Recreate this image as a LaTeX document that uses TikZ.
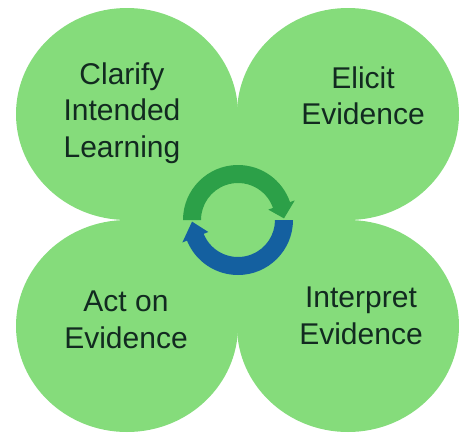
\documentclass[tikz,border=0pt]{standalone}
\usepackage{fontspec}
\setmainfont{Liberation Sans}
\usetikzlibrary{shapes.geometric}

\definecolor{petalgreen}{RGB}{133,220,123}
\definecolor{arcgreen}{RGB}{44,160,72}
\definecolor{arcblue}{RGB}{20,96,160}
\definecolor{labelink}{RGB}{18,42,32}

\begin{document}
\begin{tikzpicture}[x=1pt,y=1pt,
    petal/.style={ellipse, fill=petalgreen, minimum width=222, minimum height=212, inner sep=0},
    petaltext/.style={align=center, text=labelink, font=\fontsize{30}{36.5}\selectfont}]

\fill[white] (0,0) rectangle (459,-437);
\useasboundingbox (0,0) rectangle (459,-437);

% Ring radii for the cycle arrows
\def\ringout{55}
\def\ringin{37}
\def\ringmid{46}
\def\headout{60}
\def\headin{32}

% Arrow on the ring
\newcommand{\cyclearrow}[4]{
    % #1 is the colour, #2 the start angle, #3 the head base angle, #4 the tip angle
    \fill[#1] (#2:\ringout) arc[start angle=#2, end angle=#3, radius=\ringout]
        -- (#3:\headout) -- (#4:\ringmid) -- (#3:\headin)
        -- (#3:\ringin) arc[start angle=#3, end angle=#2, radius=\ringin] -- cycle;
}

% The four petals
\node[petal] (clarify) at (127,-114) {};
\node[petal] (elicit) at (348,-114) {};
\node[petal] (act) at (127,-326) {};
\node[petal] (interpret) at (348,-326) {};

% Fill the gap where the petals meet
\fill[petalgreen] (clarify.center) rectangle (interpret.center);

% Petal labels
\node[petaltext] (clarifytext) at (122,-113) {Clarify\\Intended\\Learning};
\node[petaltext] (elicittext) at (363,-96) {Elicit\\Evidence};
\node[petaltext] (acttext) at (126,-320) {Act on\\Evidence};
\node[petaltext] (interprettext) at (361,-316) {Interpret\\Evidence};

% Cycle in the middle
\coordinate (ring) at (238,-220);
\begin{scope}[shift={(ring)}]
    \cyclearrow{arcgreen}{180}{19}{2}
    \cyclearrow{arcblue}{0}{-158}{-178}
\end{scope}

\end{tikzpicture}
\end{document}
